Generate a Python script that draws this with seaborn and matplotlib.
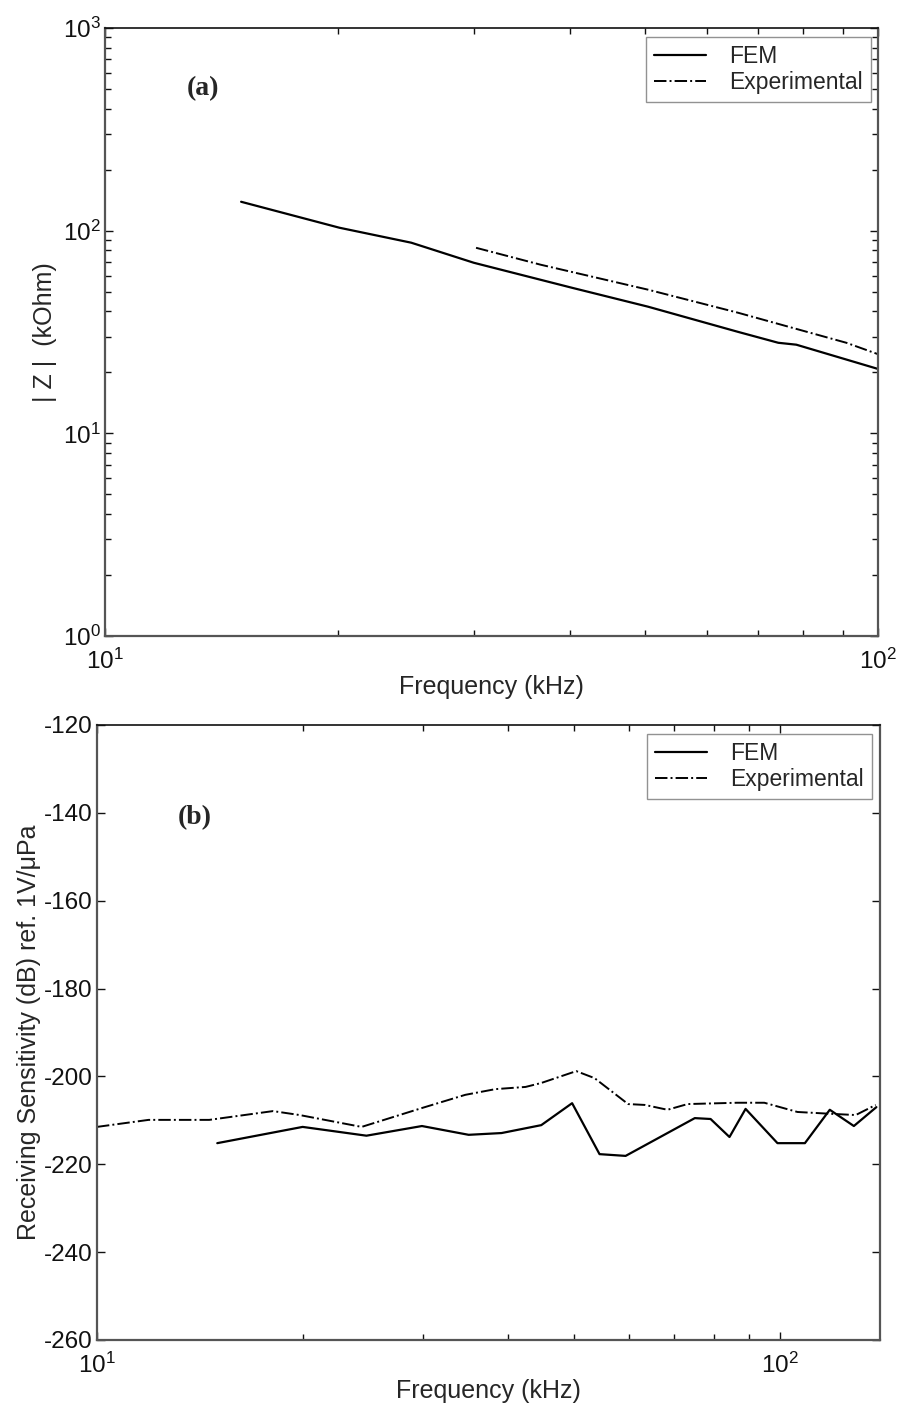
import numpy as np
import pandas as pd
import matplotlib
matplotlib.use("Agg")
import matplotlib.pyplot as plt
import matplotlib.ticker as mticker
import seaborn as sns

# Impedance magnitude |Z| (kOhm) versus frequency (kHz)
z_fem_freq = [15.0, 20.1, 24.9, 30.0, 40.2, 50.4, 65.9, 74.3, 78.4, 100.0]
z_fem_val = [139, 103.5, 87.3, 69.5, 52.3, 42.2, 31.7, 28.0, 27.4, 20.8]
z_exp_freq = [30.2, 36.6, 50.4, 65.9, 91.0, 100.0]
z_exp_val = [82.4, 68.0, 51.2, 39.4, 28.0, 24.6]

# Receiving sensitivity (dB re 1V/uPa) versus frequency (kHz)
s_fem_freq = [15.0, 20.0, 24.8, 29.9, 35.0, 39.1, 44.7, 49.6, 54.4, 59.4,
              75.0, 79.1, 84.3, 89.0, 99.1, 108.7, 118.2, 128.2, 138.3]
s_fem_val = [-215.2, -211.5, -213.5, -211.3, -213.3, -212.9, -211.1, -206.1,
             -217.7, -218.1, -209.5, -209.7, -213.8, -207.4, -215.2, -215.2,
             -207.6, -211.3, -207.0]
s_exp_freq = [10.0, 11.9, 14.6, 18.1, 19.8, 24.4, 29.9, 34.6, 38.3, 42.4,
              44.7, 50.3, 53.5, 59.9, 63.4, 68.4, 73.2, 86.5, 94.8, 106.0,
              118.0, 129.0, 138.0]
s_exp_val = [-211.5, -209.9, -209.9, -207.9, -208.8, -211.5, -207.2, -204.2,
             -202.9, -202.4, -201.5, -198.8, -200.4, -206.3, -206.5, -207.6,
             -206.3, -206.0, -206.0, -208.1, -208.5, -208.8, -206.5]

series_names = ["FEM", "Experimental"]

sns.set_style("ticks")
plt.rcParams["font.family"] = ["Liberation Sans", "DejaVu Sans"]
plt.rcParams["mathtext.fontset"] = "custom"
plt.rcParams["mathtext.rm"] = "Liberation Sans"
plt.rcParams["mathtext.it"] = "Liberation Sans:italic"
plt.rcParams["axes.unicode_minus"] = False

fig = plt.figure(figsize=(9.02, 14.05), dpi=100)
ax1 = fig.add_axes([0.1164, 0.5473, 0.8570, 0.4327])
ax2 = fig.add_axes([0.1075, 0.0463, 0.8681, 0.4377])

spine_col = "#555555"


def style_axes(ax):
    for s in ax.spines.values():
        s.set_color(spine_col)
        s.set_linewidth(1.6)
    ax.spines["top"].set_color("#111111")
    ax.spines["top"].set_linewidth(1.2)
    ax.tick_params(which="both", direction="in", top=True, right=True,
                   labelsize=17.5, colors="#111111")
    ax.tick_params(which="major", length=6, width=1.0)
    ax.tick_params(which="minor", length=4, width=1.0)
    ax.tick_params(axis="x", which="major", pad=9)
    ax.tick_params(axis="y", which="major", pad=3)


def add_legend(ax, anchor):
    leg = ax.legend(loc="upper right", fontsize=16.5, frameon=True,
                    fancybox=False, edgecolor="#777777", borderpad=0.35,
                    labelspacing=0.12, handlelength=2.3, handletextpad=1.0,
                    borderaxespad=0.0, bbox_to_anchor=anchor)
    leg.get_frame().set_linewidth(1.0)
    return leg


# ---- (a) impedance ----
df_a_fem = pd.DataFrame({"f": z_fem_freq, "z": z_fem_val})
df_a_exp = pd.DataFrame({"f": z_exp_freq, "z": z_exp_val})
sns.lineplot(data=df_a_fem, x="f", y="z", ax=ax1, color="black", lw=1.6,
             linestyle="-", label=series_names[0], sort=False)
sns.lineplot(data=df_a_exp, x="f", y="z", ax=ax1, color="black", lw=1.4,
             linestyle="-.", label=series_names[1], sort=False)
ax1.set_xscale("log")
ax1.set_yscale("log")
ax1.set_xlim(10, 100)
ax1.set_ylim(1, 1000)
ax1.xaxis.set_major_locator(mticker.FixedLocator([10, 100]))
ax1.xaxis.set_major_formatter(mticker.FixedFormatter(["$10^1$", "$10^2$"]))
ax1.xaxis.set_minor_locator(mticker.LogLocator(base=10, subs=np.arange(2, 10)))
ax1.xaxis.set_minor_formatter(mticker.NullFormatter())
ax1.yaxis.set_major_locator(mticker.FixedLocator([1, 10, 100, 1000]))
ax1.yaxis.set_major_formatter(mticker.FixedFormatter(["$10^0$", "$10^1$", "$10^2$", "$10^3$"]))
ax1.yaxis.set_minor_locator(mticker.LogLocator(base=10, subs=np.arange(2, 10)))
ax1.yaxis.set_minor_formatter(mticker.NullFormatter())
ax1.set_xlabel("Frequency (kHz)", fontsize=18, labelpad=1)
ax1.set_ylabel("| Z |  (kOhm)", fontsize=18, labelpad=4)
style_axes(ax1)
ax1.text(0.127, 0.9, "(a)", transform=ax1.transAxes, fontsize=20,
         fontweight="bold", family="Liberation Serif", ha="center", va="center")
add_legend(ax1, (0.991, 0.985))

# ---- (b) receiving sensitivity ----
df_b_fem = pd.DataFrame({"f": s_fem_freq, "s": s_fem_val})
df_b_exp = pd.DataFrame({"f": s_exp_freq, "s": s_exp_val})
sns.lineplot(data=df_b_fem, x="f", y="s", ax=ax2, color="black", lw=1.6,
             linestyle="-", label=series_names[0], sort=False)
sns.lineplot(data=df_b_exp, x="f", y="s", ax=ax2, color="black", lw=1.4,
             linestyle="-.", label=series_names[1], sort=False)
ax2.set_xscale("log")
ax2.set_xlim(10, 140)
ax2.set_ylim(-260, -120)
ax2.xaxis.set_major_locator(mticker.FixedLocator([10, 100]))
ax2.xaxis.set_major_formatter(mticker.FixedFormatter(["$10^1$", "$10^2$"]))
ax2.xaxis.set_minor_locator(mticker.LogLocator(base=10, subs=np.arange(2, 10)))
ax2.xaxis.set_minor_formatter(mticker.NullFormatter())
ax2.yaxis.set_major_locator(mticker.MultipleLocator(20))
ax2.set_xlabel("Frequency (kHz)", fontsize=18, labelpad=1)
ax2.set_ylabel("Receiving Sensitivity (dB) ref. 1V/\u03bcPa", fontsize=18, labelpad=2)
style_axes(ax2)
ax2.text(0.125, 0.85, "(b)", transform=ax2.transAxes, fontsize=20,
         fontweight="bold", family="Liberation Serif", ha="center", va="center")
add_legend(ax2, (0.9898, 0.985))

fig.savefig("out.png", dpi=100, facecolor="white")
